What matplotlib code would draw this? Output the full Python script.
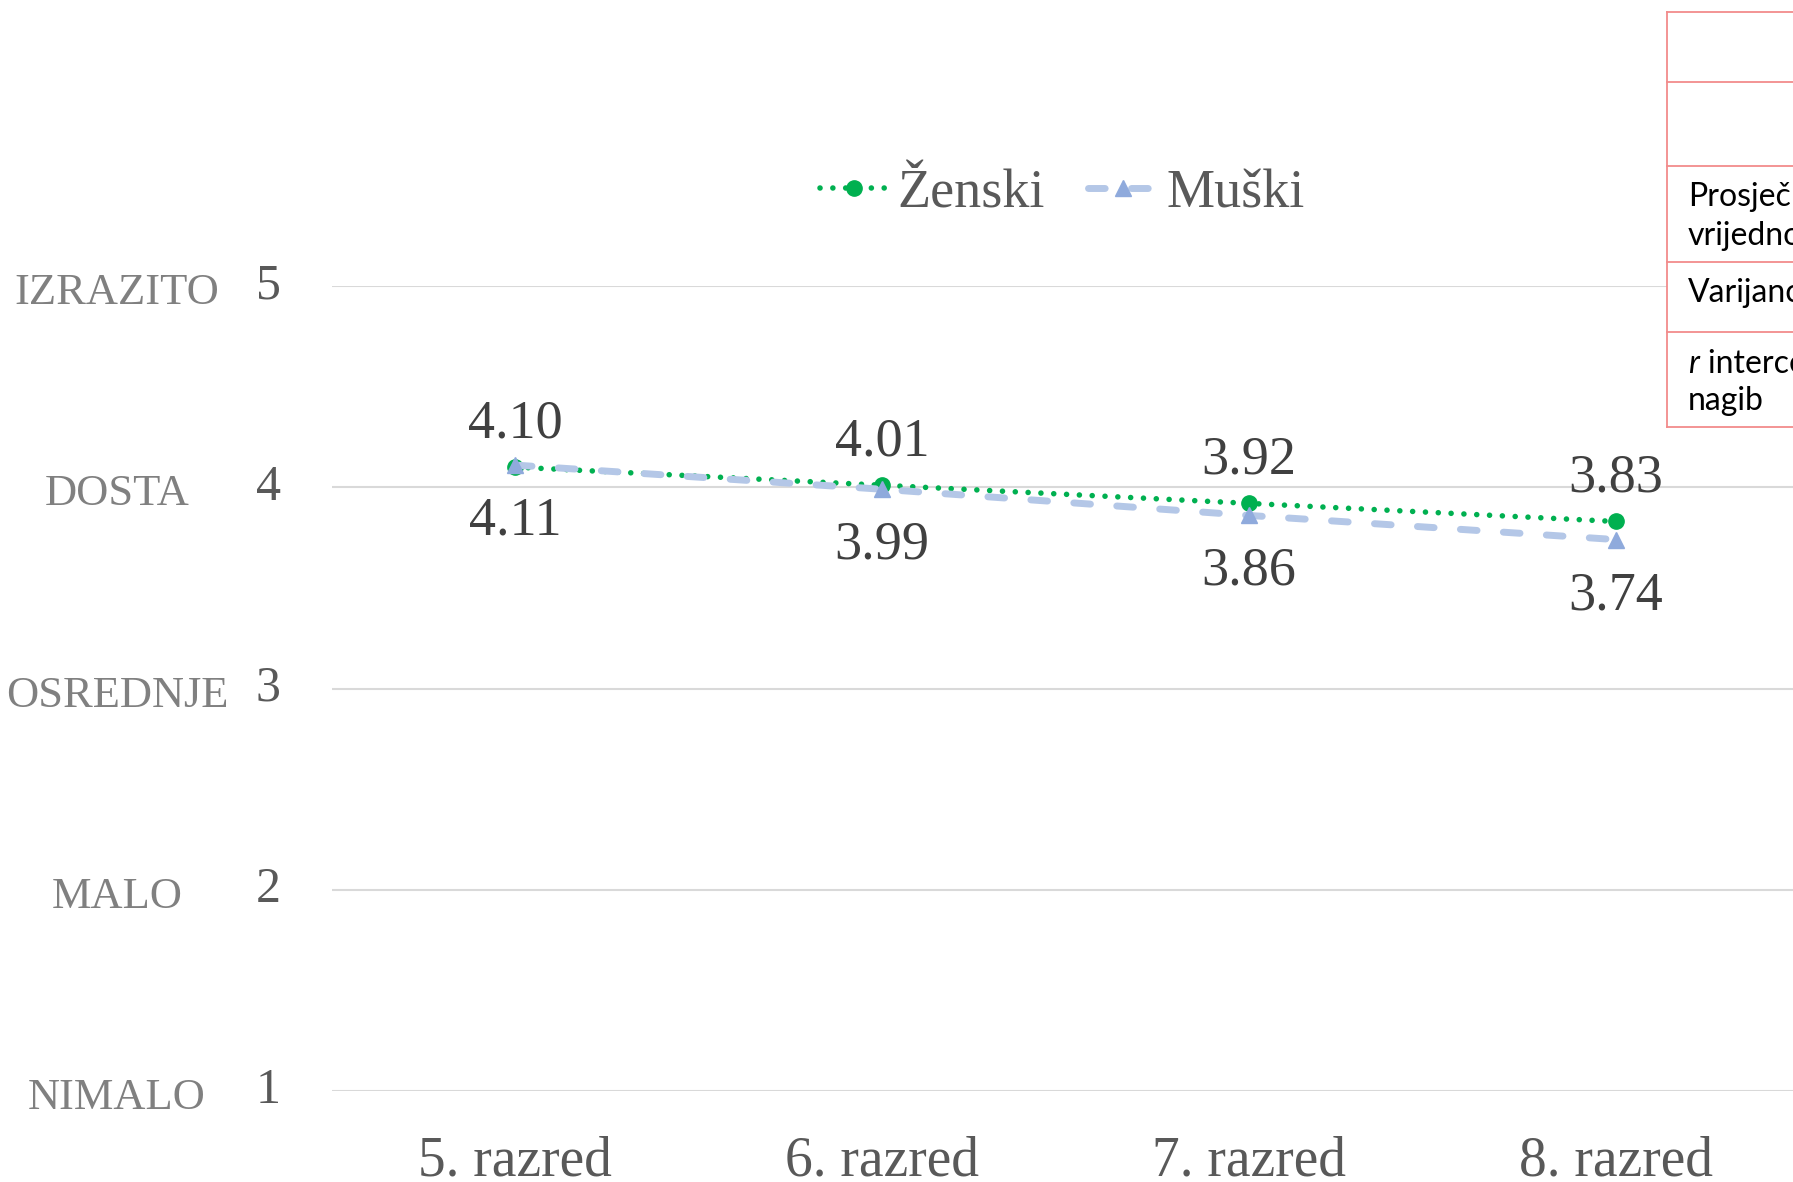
import matplotlib
matplotlib.use("Agg")
import matplotlib.pyplot as plt
import matplotlib.transforms as mtransforms
from matplotlib.lines import Line2D
from matplotlib.patches import Rectangle

# ---- data ----
categories = ["5. razred", "6. razred", "7. razred", "8. razred"]
zenski = [4.10, 4.01, 3.92, 3.83]
muski = [4.11, 3.99, 3.86, 3.74]
series_names = ["Ženski", "Muški"]
y_ticks = [1, 2, 3, 4, 5]
y_level_labels = ["NIMALO", "MALO", "OSREDNJE", "DOSTA", "IZRAZITO"]
table_rows = [["", ""], ["", ""], ["Prosječna", "vrijednost"], ["Varijanca", ""], ["intercept i", "nagib"]]

plt.rcParams['font.family'] = ['Liberation Serif', 'DejaVu Serif']

W, H = 1793, 1182
fig = plt.figure(figsize=(W / 100, H / 100), dpi=100)
ax = fig.add_axes([332 / W, (H - 1091) / H, (1799 - 332) / W, (1091 - 286) / H])

x = list(range(len(categories)))
ax.plot(x, zenski, color='#00B050', lw=4.0, linestyle=(0, (0.01, 2.3)),
        dash_capstyle='round', marker='o', ms=11, label=series_names[0], zorder=3)
ax.plot(x, muski, color='#B4C7E7', lw=5.0, linestyle=(0, (2.4, 3.8)),
        dash_capstyle='round', marker='^', ms=12, mfc='#8FAADC', mec='#8FAADC',
        label=series_names[1], zorder=4)

for i, v in enumerate(zenski):
    ax.annotate(f"{v:.2f}", (i, v), xytext=(0, 31), textcoords='offset points',
                ha='center', va='center', fontsize=39, color='#404040')
for i, v in enumerate(muski):
    ax.annotate(f"{v:.2f}", (i, v), xytext=(0, -40.5), textcoords='offset points',
                ha='center', va='center', fontsize=39, color='#404040')

ax.set_xlim(-0.5, 3.5)
ax.set_ylim(1, 5)
ax.set_yticks(y_ticks)
ax.set_xticks(x, categories)
ax.yaxis.grid(True, color='#D9D9D9', lw=1.5)
ax.set_axisbelow(True)
for s in ax.spines.values():
    s.set_visible(False)
ax.tick_params(axis='y', length=0, pad=37, labelsize=36, labelcolor='#595959')
ax.tick_params(axis='x', length=0, pad=32, labelsize=40, labelcolor='#595959')
for lbl in ax.get_yticklabels():
    lbl.set_va('center')

trans = mtransforms.blended_transform_factory(fig.transFigure, ax.transData)
for v, lab in zip(y_ticks, y_level_labels):
    ax.text(117 / W, v - 0.035, lab, transform=trans, ha='center', va='center',
            fontsize=32, color='#808080', clip_on=False)

fig.legend(loc='center', bbox_to_anchor=(1062 / W, 1 - 194 / H), ncol=2,
           frameon=False, fontsize=39, handlelength=1.27, handletextpad=0.17,
           columnspacing=0.8, numpoints=1, labelcolor='#595959')

# ---- partially visible table on the right ----
pix = mtransforms.Affine2D().scale(1 / W, -1 / H).translate(0, 1) + fig.transFigure
row_edges = [12, 82, 166, 262, 332, 427]
tx0 = 1667
fig.add_artist(Rectangle((tx0, row_edges[0]), 200, row_edges[-1] - row_edges[0],
                         transform=pix, facecolor='white', edgecolor='none', zorder=5))
lc = '#F28B8B'
for yv in row_edges:
    fig.add_artist(Line2D([tx0, 1850], [yv, yv], transform=pix, color=lc, lw=1.3, zorder=6))
fig.add_artist(Line2D([tx0, tx0], [row_edges[0], row_edges[-1]], transform=pix,
                      color=lc, lw=1.3, zorder=6))

tf = dict(fontsize=23, color='black', family=['Lato', 'DejaVu Sans'], zorder=7,
          transform=pix, va='baseline', ha='left')
fig.text(1688, 206, table_rows[2][0], **tf)
fig.text(1688, 245, table_rows[2][1], **tf)
fig.text(1688, 302, table_rows[3][0], **tf)
fig.text(1688, 373, "r", style='italic', **tf)
fig.text(1708, 373, table_rows[4][0], **tf)
fig.text(1688, 410, table_rows[4][1], **tf)

fig.savefig("out.png", dpi=100)
